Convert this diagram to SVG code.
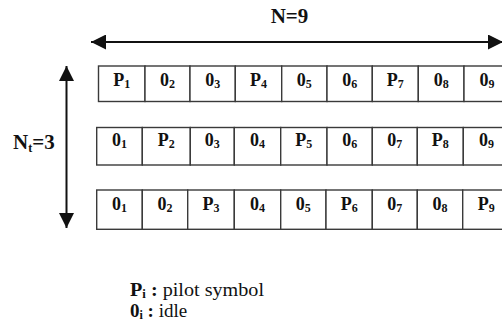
<svg xmlns="http://www.w3.org/2000/svg" width="502" height="325" viewBox="0 0 502 325">
<style>
.cell{fill:#fff;stroke:#3a3a3a;stroke-width:1.4}
.t{font-family:"Liberation Serif","Times New Roman",serif;font-size:18px;font-weight:bold;fill:#111;text-anchor:middle}
.s{font-size:12px}
.lbl{font-family:"Liberation Serif","Times New Roman",serif;font-size:21px;font-weight:bold;fill:#111}
.leg{font-family:"Liberation Serif","Times New Roman",serif;font-size:19px;fill:#111}
.ax{stroke:#111;stroke-width:2;fill:none}
</style>
<defs>
<marker id="ah" viewBox="0 0 10 10" refX="10" refY="5" markerWidth="7.5" markerHeight="7.5" markerUnits="strokeWidth" orient="auto-start-reverse">
<path d="M0,0 L10,5 L0,10 Z" fill="#111"/>
</marker>
</defs>
<g id="connectors">
<line class="ax" x1="91" y1="42" x2="503" y2="42" marker-start="url(#ah)" marker-end="url(#ah)"/>
<line class="ax" x1="66.5" y1="66" x2="66.5" y2="228" marker-start="url(#ah)" marker-end="url(#ah)"/>
</g>
<text class="lbl" x="289.5" y="23" text-anchor="middle">N=9</text>
<text class="lbl" x="13" y="149" font-size="20">N<tspan font-size="12" dy="3">t</tspan><tspan dy="-3">=3</tspan></text>
<g id="row1">
<g id="r1c1"><rect class="cell" x="98.5" y="66" width="46.5" height="35.5"/><text class="t" x="121.7" y="85.5">P<tspan class="s" dy="2">1</tspan></text></g>
<g id="r1c2"><rect class="cell" x="145" y="66" width="45" height="35.5"/><text class="t" x="167.5" y="85.5">0<tspan class="s" dy="2">2</tspan></text></g>
<g id="r1c3"><rect class="cell" x="190" y="66" width="45.3" height="35.5"/><text class="t" x="212.7" y="85.5">0<tspan class="s" dy="2">3</tspan></text></g>
<g id="r1c4"><rect class="cell" x="235.3" y="66" width="46.4" height="35.5"/><text class="t" x="258.5" y="85.5">P<tspan class="s" dy="2">4</tspan></text></g>
<g id="r1c5"><rect class="cell" x="281.7" y="66" width="45.3" height="35.5"/><text class="t" x="304.3" y="85.5">0<tspan class="s" dy="2">5</tspan></text></g>
<g id="r1c6"><rect class="cell" x="327" y="66" width="45.3" height="35.5"/><text class="t" x="349.7" y="85.5">0<tspan class="s" dy="2">6</tspan></text></g>
<g id="r1c7"><rect class="cell" x="372.3" y="66" width="46" height="35.5"/><text class="t" x="395.3" y="85.5">P<tspan class="s" dy="2">7</tspan></text></g>
<g id="r1c8"><rect class="cell" x="418.3" y="66" width="45.7" height="35.5"/><text class="t" x="441.2" y="85.5">0<tspan class="s" dy="2">8</tspan></text></g>
<g id="r1c9"><rect class="cell" x="464" y="66" width="46" height="35.5"/><text class="t" x="487" y="85.5">0<tspan class="s" dy="2">9</tspan></text></g>
</g>
<g id="row2">
<g id="r2c1"><rect class="cell" x="96.7" y="127.5" width="45.6" height="37.5"/><text class="t" x="119.5" y="146">0<tspan class="s" dy="2">1</tspan></text></g>
<g id="r2c2"><rect class="cell" x="142.3" y="127.5" width="48" height="37.5"/><text class="t" x="166.3" y="146">P<tspan class="s" dy="2">2</tspan></text></g>
<g id="r2c3"><rect class="cell" x="190.3" y="127.5" width="44" height="37.5"/><text class="t" x="212.3" y="146">0<tspan class="s" dy="2">3</tspan></text></g>
<g id="r2c4"><rect class="cell" x="234.3" y="127.5" width="46.4" height="37.5"/><text class="t" x="257.5" y="146">0<tspan class="s" dy="2">4</tspan></text></g>
<g id="r2c5"><rect class="cell" x="280.7" y="127.5" width="46.3" height="37.5"/><text class="t" x="303.8" y="146">P<tspan class="s" dy="2">5</tspan></text></g>
<g id="r2c6"><rect class="cell" x="327" y="127.5" width="45.3" height="37.5"/><text class="t" x="349.7" y="146">0<tspan class="s" dy="2">6</tspan></text></g>
<g id="r2c7"><rect class="cell" x="372.3" y="127.5" width="45" height="37.5"/><text class="t" x="394.8" y="146">0<tspan class="s" dy="2">7</tspan></text></g>
<g id="r2c8"><rect class="cell" x="417.3" y="127.5" width="46" height="37.5"/><text class="t" x="440.3" y="146">P<tspan class="s" dy="2">8</tspan></text></g>
<g id="r2c9"><rect class="cell" x="463.3" y="127.5" width="46.7" height="37.5"/><text class="t" x="486.5" y="146">0<tspan class="s" dy="2">9</tspan></text></g>
</g>
<g id="row3">
<g id="r3c1"><rect class="cell" x="96.7" y="190" width="45.6" height="39.3"/><text class="t" x="119.5" y="210">0<tspan class="s" dy="2">1</tspan></text></g>
<g id="r3c2"><rect class="cell" x="142.3" y="190" width="45.4" height="39.3"/><text class="t" x="165" y="210">0<tspan class="s" dy="2">2</tspan></text></g>
<g id="r3c3"><rect class="cell" x="187.7" y="190" width="46.6" height="39.3"/><text class="t" x="211" y="210">P<tspan class="s" dy="2">3</tspan></text></g>
<g id="r3c4"><rect class="cell" x="234.3" y="190" width="46.4" height="39.3"/><text class="t" x="257.5" y="210">0<tspan class="s" dy="2">4</tspan></text></g>
<g id="r3c5"><rect class="cell" x="280.7" y="190" width="45.3" height="39.3"/><text class="t" x="303.3" y="210">0<tspan class="s" dy="2">5</tspan></text></g>
<g id="r3c6"><rect class="cell" x="326" y="190" width="46.3" height="39.3"/><text class="t" x="349.2" y="210">P<tspan class="s" dy="2">6</tspan></text></g>
<g id="r3c7"><rect class="cell" x="372.3" y="190" width="45" height="39.3"/><text class="t" x="394.8" y="210">0<tspan class="s" dy="2">7</tspan></text></g>
<g id="r3c8"><rect class="cell" x="417.3" y="190" width="45.4" height="39.3"/><text class="t" x="440" y="210">0<tspan class="s" dy="2">8</tspan></text></g>
<g id="r3c9"><rect class="cell" x="462.7" y="190" width="47.3" height="39.3"/><text class="t" x="486.3" y="210">P<tspan class="s" dy="2">9</tspan></text></g>
</g>
<g id="legend">
<text class="leg" x="130" y="296" textLength="134" lengthAdjust="spacingAndGlyphs"><tspan font-weight="bold">P</tspan><tspan font-weight="bold" font-size="12" dy="2">i</tspan><tspan dy="-2" font-weight="bold"> :</tspan><tspan> pilot symbol</tspan></text>
<text class="leg" x="130" y="317"><tspan font-weight="bold">0</tspan><tspan font-weight="bold" font-size="12" dy="2">i</tspan><tspan dy="-2" font-weight="bold"> :</tspan><tspan> idle</tspan></text>
</g>
</svg>
